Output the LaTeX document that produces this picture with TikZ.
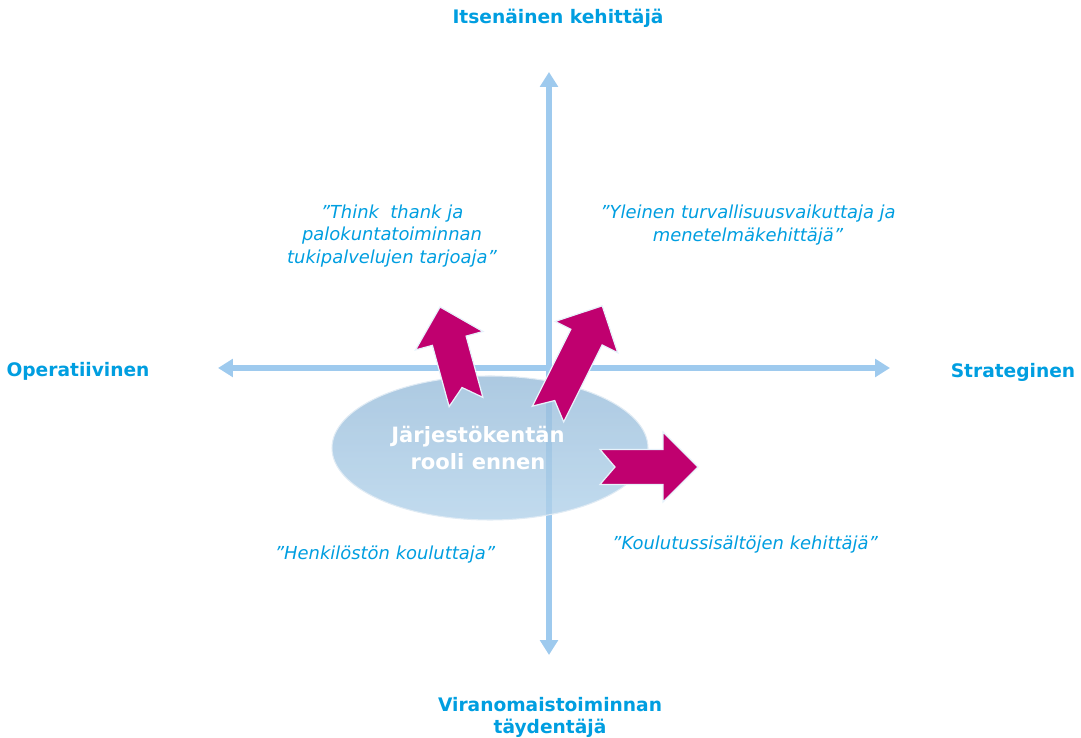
\documentclass[tikz,border=0pt]{standalone}
\usepackage{fontspec}
\setmainfont{DejaVu Sans}
\usepackage{tikz}
\usetikzlibrary{arrows.meta, shapes.geometric}
\definecolor{axisblue}{RGB}{158,202,238}
\definecolor{labelblue}{RGB}{0,158,224}
\definecolor{rolemagenta}{RGB}{192,0,111}
\definecolor{ovaltop}{RGB}{152,188,218}
\definecolor{ovalbottom}{RGB}{178,210,234}
\tikzstyle{axis} = [line width=3pt, draw=axisblue, -{Triangle[width=10pt,length=8.5pt]}]
\tikzstyle{axislabel} = [font=\bfseries\fontsize{10.6}{12.5}\selectfont, text=labelblue, align=center]
\tikzstyle{rolelabel} = [font=\itshape\fontsize{10.2}{12.8}\selectfont, text=labelblue, align=center]
\tikzstyle{oval} = [ellipse, minimum width=6.32cm, minimum height=2.88cm, top color=ovaltop, bottom color=ovalbottom, fill opacity=0.8, draw=white!70!ovaltop, line width=0.6pt]
\tikzset{notcharrow/.pic={
    \fill[rolemagenta, draw=white!75!axisblue, line width=0.7pt]
      (0,0.35) -- (#1-0.7,0.35) -- (#1-0.7,0.7) -- (#1,0) -- (#1-0.7,-0.7)
      -- (#1-0.7,-0.35) -- (0,-0.35) -- (0.3,0) -- cycle;
  }}

\begin{document}
\begin{tikzpicture}
        \useasboundingbox (0,0) rectangle (21.62,14.76);

        \coordinate (origin) at (10.98,7.40);
        \coordinate (north) at (10.98,13.32);
        \coordinate (south) at (10.98,1.66);
        \coordinate (left) at (4.36,7.40);
        \coordinate (right) at (17.80,7.40);

        \draw [axis] (origin) -- (north);
        \draw [axis] (origin) -- (south);
        \draw [axis] (origin) -- (left);
        \draw [axis] (origin) -- (right);

        \node (before) [oval] at (9.8,5.8) {};
        \node (beforetext) [font=\bfseries\fontsize{12}{15}\selectfont, text=white, align=center] at (9.56,5.8) {Järjestökentän\\rooli ennen};

        \pic [rotate=105.3] at (9.32,6.72) {notcharrow=1.97};
        \pic [rotate=63.4] at (10.96,6.48) {notcharrow=2.42};
        \pic at (12.0,5.42) {notcharrow=1.96};

        \node (independent) [axislabel] at (11.16,14.40) {Itsenäinen kehittäjä};
        \node (operative) [axislabel] at (1.56,7.34) {Operatiivinen};
        \node (strategic) [axislabel] at (20.26,7.32) {Strateginen};
        \node (authority) [axislabel] at (11.0,0.42) {Viranomaistoiminnan\\täydentäjä};

        \node (thinktank) [rolelabel] at (7.84,10.04) {”Think\ \ thank ja\\palokuntatoiminnan\\tukipalvelujen tarjoaja”};
        \node (general) [rolelabel] at (14.96,10.26) {”Yleinen turvallisuusvaikuttaja ja\\menetelmäkehittäjä”};
        \node (trainer) [rolelabel] at (7.7,3.66) {”Henkilöstön kouluttaja”};
        \node (content) [rolelabel] at (14.9,3.86) {”Koulutussisältöjen kehittäjä”};

      \end{tikzpicture}
\end{document}
